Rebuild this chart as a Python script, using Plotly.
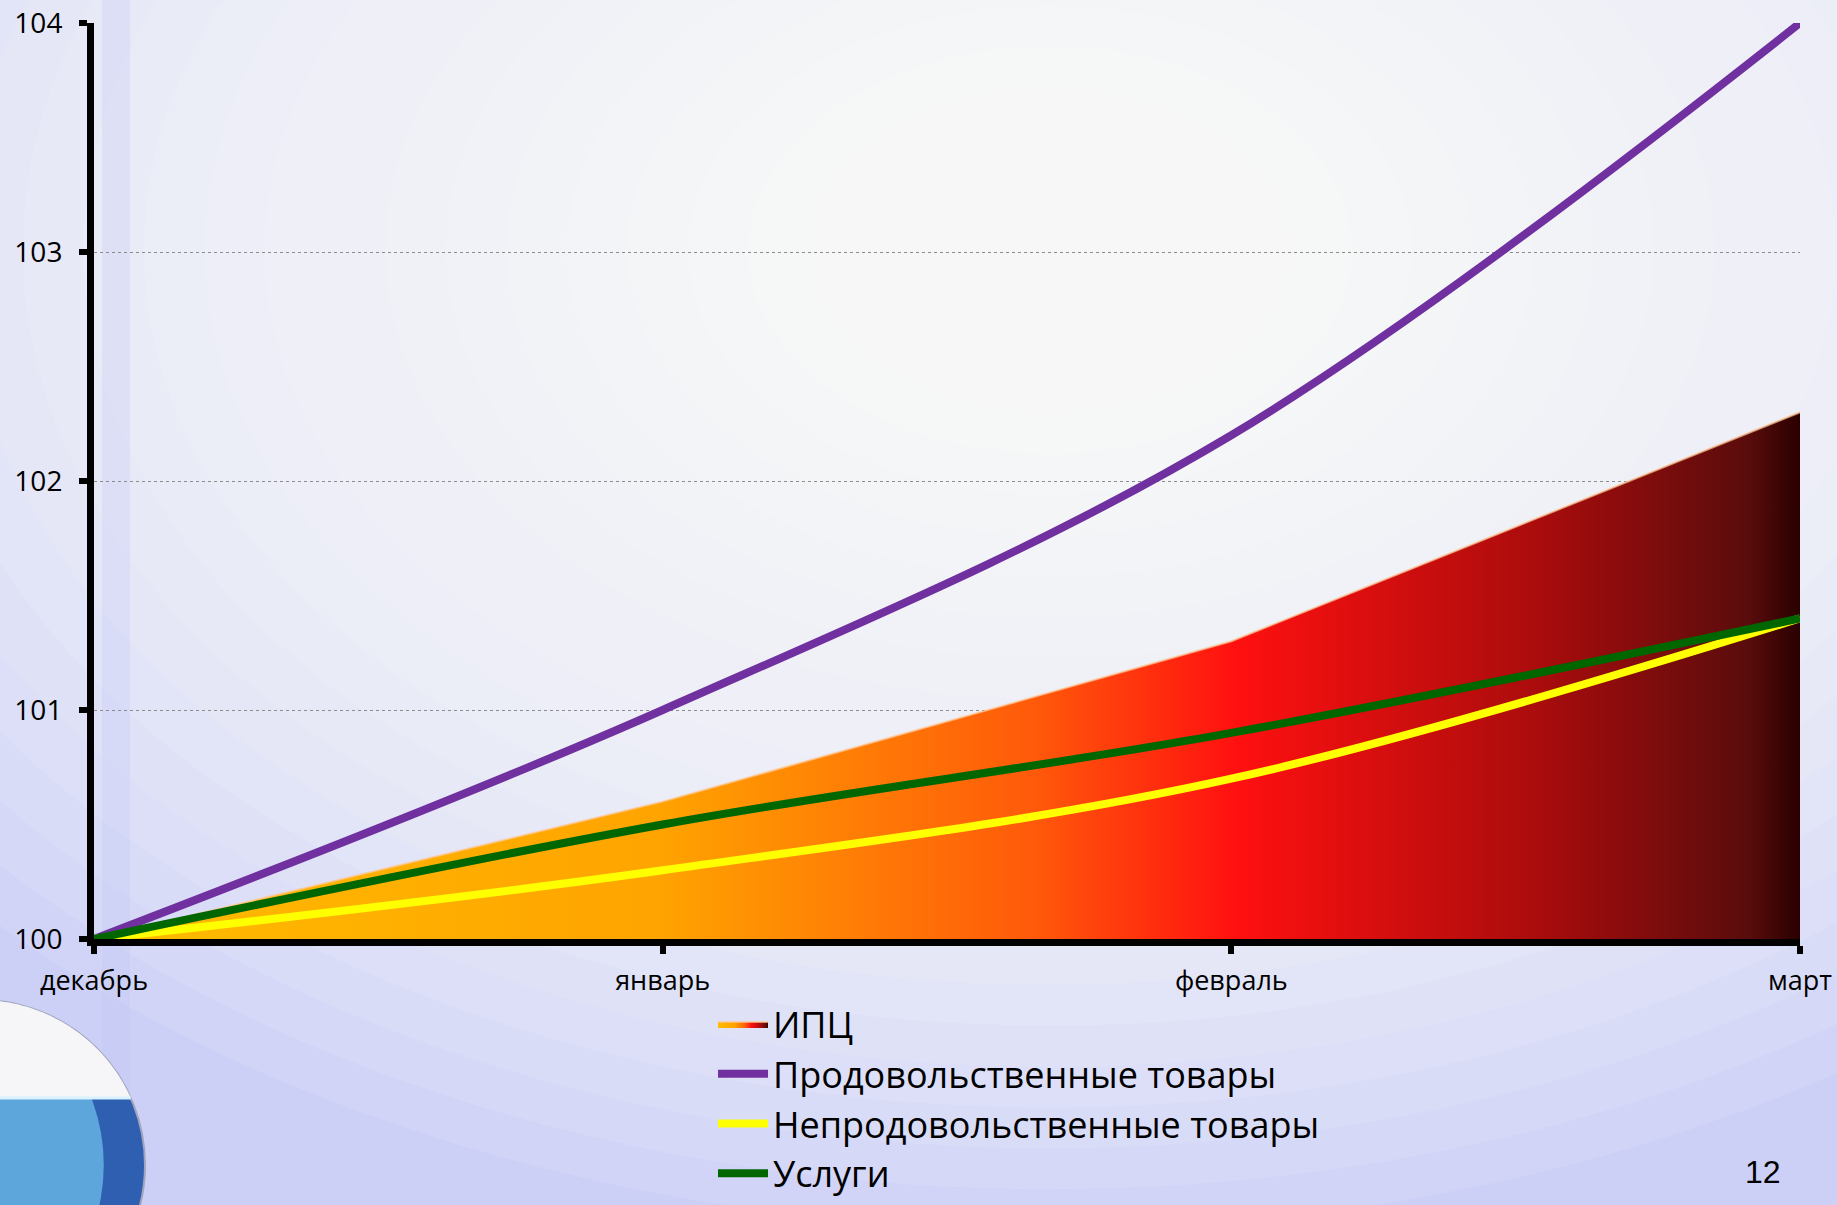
import numpy as np
import plotly.graph_objects as go

months = ["декабрь", "январь", "февраль", "март"]
cpi = [100.0, 100.6, 101.3, 102.3]
food = [100.0, 101.0, 102.2, 104.0]
nonfood = [100.0, 100.3, 100.7, 101.4]
services = [100.0, 100.5, 100.9, 101.4]
y_ticks = [100, 101, 102, 103, 104]

W, H = 1837, 1205
L, R, T, B = 94, 1800, 23, 939
PW, PH = R - L, B - T


def px(x):
    return (x - L) / PW


def py(y):
    return (B - y) / PH


fig = go.Figure()

fig.add_trace(go.Scatter(
    x=months, y=cpi, name="ИПЦ", mode="lines",
    line=dict(color="rgba(255,200,150,0.7)", width=2),
    fill="tozeroy",
    fillgradient=dict(
        type="horizontal",
        colorscale=[[0.0, "#FFBC00"], [0.33, "#FFA400"], [0.55, "#FF5A0A"],
                    [0.67, "#FF1010"], [0.85, "#A80C0C"], [0.97, "#5A0C0C"],
                    [1.0, "#2A0000"]],
    ),
))
fig.add_trace(go.Scatter(
    x=months, y=food, name="Продовольственные товары", mode="lines",
    line=dict(color="#7030A0", width=8, shape="spline"),
))
fig.add_trace(go.Scatter(
    x=months, y=nonfood, name="Непродовольственные товары", mode="lines",
    line=dict(color="#FFFF00", width=8, shape="spline"),
))
fig.add_trace(go.Scatter(
    x=months, y=services, name="Услуги", mode="lines",
    line=dict(color="#006600", width=8, shape="spline"),
))

shapes = []
# soft radial background
ecx, ecy, erx, ery = 1050, 250, 1450, 980
N = 24
for i in range(N):
    k = 1 - i / N
    shapes.append(dict(type="circle", xref="paper", yref="paper",
                       x0=px(ecx - erx * k), x1=px(ecx + erx * k),
                       y0=py(ecy + ery * k), y1=py(ecy - ery * k),
                       fillcolor="rgba(255,255,255,0.1)", line=dict(width=0),
                       layer="below"))
# faint vertical streak near axis
shapes.append(dict(type="rect", xref="paper", yref="paper",
                   x0=px(102), x1=px(130), y0=py(H), y1=py(0),
                   fillcolor="rgba(190,195,245,0.25)", line=dict(width=0), layer="below"))

# sphere decoration bottom-left
cx, cy, r = -20, 1165, 165
shapes.append(dict(type="circle", xref="paper", yref="paper",
                   x0=px(cx - r), x1=px(cx + r), y0=py(cy + r), y1=py(cy - r),
                   fillcolor="#2E5FB0", line=dict(color="#A0A4BC", width=2), layer="above"))
shapes.append(dict(type="circle", xref="paper", yref="paper",
                   x0=px(cx - r), x1=px(cx + r * 0.75), y0=py(cy + r), y1=py(cy - r),
                   fillcolor="rgba(110,190,235,0.75)", line=dict(width=0), layer="above"))
split = 1098
ang = np.linspace(0, 2 * np.pi, 240)
pts = [(cx + r * np.cos(a), cy - r * np.sin(a)) for a in ang]
upper = [(x, y) for x, y in pts if y <= split]
dy = cy - split
dx = np.sqrt(r * r - dy * dy)
upper = sorted(upper, key=lambda p: np.arctan2(cy - p[1], p[0] - cx))
path = f"M {px(cx + dx)},{py(split)} " + " ".join(
    f"L {px(x)},{py(y)}" for x, y in upper) + f" L {px(cx - dx)},{py(split)} Z"
shapes.append(dict(type="path", xref="paper", yref="paper", path=path,
                   fillcolor="#F6F6F9", line=dict(width=0), layer="above"))
shapes.append(dict(type="line", xref="paper", yref="paper",
                   x0=px(cx - dx), x1=px(cx + dx), y0=py(split), y1=py(split),
                   line=dict(color="#D8F2FF", width=3), layer="above"))

fig.update_layout(
    width=W, height=H,
    margin=dict(l=L, r=W - R, t=T, b=H - B, autoexpand=False),
    paper_bgcolor="#CCD0F6",
    plot_bgcolor="rgba(0,0,0,0)",
    shapes=shapes,
    font=dict(family="Open Sans, sans-serif", color="#000000"),
    showlegend=True,
    legend=dict(
        x=px(713), y=py(994), xanchor="left", yanchor="top",
        bgcolor="rgba(0,0,0,0)", font=dict(size=36, color="#000000"),
        itemwidth=50, tracegroupgap=0,
    ),
    annotations=[dict(text="12", xref="paper", yref="paper",
                      x=px(1763), y=py(1172), xanchor="center", yanchor="middle",
                      showarrow=False,
                      font=dict(family="Liberation Sans, Arial", size=32, color="#000000"))],
)

fig.update_xaxes(
    type="category", range=[0, len(months) - 1],
    showline=True, linecolor="#000000", linewidth=7,
    ticks="outside", tickcolor="#000000", ticklen=8, tickwidth=6,
    tickfont=dict(size=27), showgrid=False, zeroline=False,
    ticklabelstandoff=4,
)
fig.update_yaxes(
    range=[100, 104], tickvals=y_ticks,
    showline=True, linecolor="#000000", linewidth=7,
    ticks="outside", tickcolor="#000000", ticklen=8, tickwidth=6,
    tickfont=dict(size=28), showgrid=True, gridcolor="#8C8C8C", gridwidth=1,
    griddash="dot", zeroline=False, ticklabelstandoff=11,
)

fig.write_html("out.html", post_script="document.body.style.margin='0';",
               config={"displayModeBar": False})
